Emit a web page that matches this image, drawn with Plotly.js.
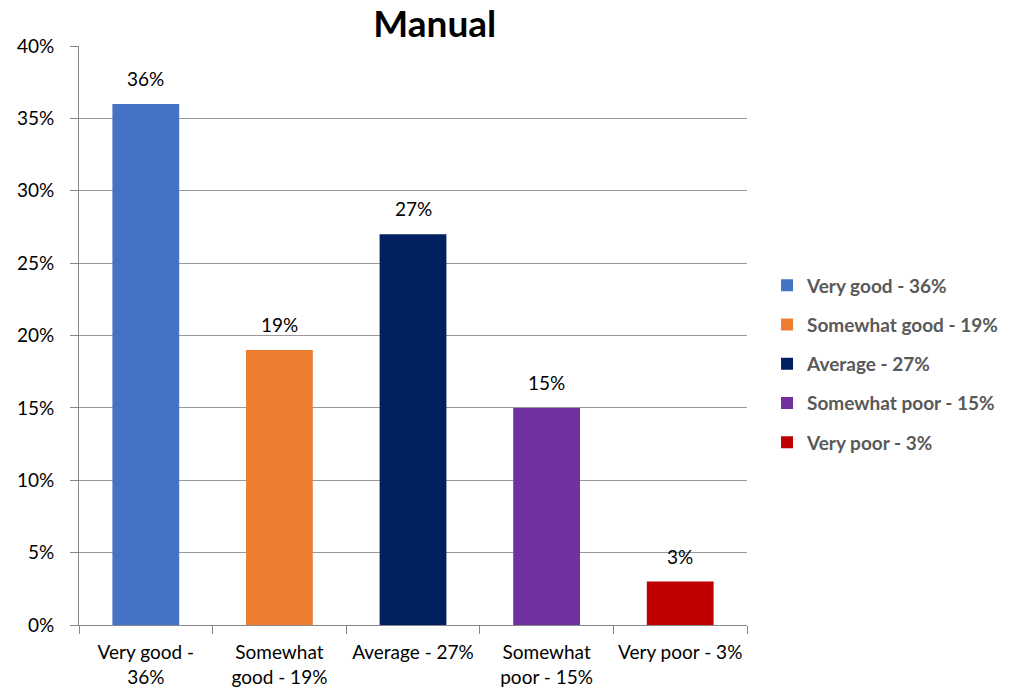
<!DOCTYPE html>
<html>
<head>
<meta charset="utf-8">
<script src="https://cdn.plot.ly/plotly-3.0.1.min.js"></script>
<style>html,body{margin:0;padding:0;background:#fff;}#chart{width:1023px;height:691px;}</style>
</head>
<body>
<div id="chart"></div>
<script>
var categories = ["Very good -<br>36%", "Somewhat<br>good - 19%", "Average - 27%", "Somewhat<br>poor - 15%", "Very poor - 3%"];
var legendNames = ["Very good - 36%", "Somewhat good - 19%", "Average - 27%", "Somewhat poor - 15%", "Very poor - 3%"];
var values = [0.36, 0.19, 0.27, 0.15, 0.03];
var labels = ["36%", "19%", "27%", "15%", "3%"];
var colors = ["#4472C4", "#ED7D31", "#002060", "#7030A0", "#C00000"];

var FONT = "Lato, 'Open Sans', sans-serif";
var traces = categories.map(function (c, i) {
  return {
    type: "bar",
    x: [c],
    y: [values[i]],
    name: legendNames[i],
    legendgroup: "g" + i,
    marker: {color: colors[i]},
    hoverinfo: "skip"
  };
});

var annotations = categories.map(function (c, i) {
  return {
    x: c, y: values[i], xref: "x", yref: "y",
    text: labels[i], showarrow: false,
    yanchor: "bottom", yshift: 12,
    font: {family: FONT, size: 19, color: "#000"}
  };
});

var layout = {
  width: 1023, height: 691,
  margin: {l: 79, r: 276, t: 46, b: 66},
  paper_bgcolor: "#fff", plot_bgcolor: "#fff",
  title: {text: "<b>Manual</b>", font: {family: FONT, size: 37, color: "#000"}, x: 0.425, xanchor: "center", y: 0.965, yanchor: "middle"},
  barmode: "relative",
  bargap: 0.5,
  showlegend: true,
  annotations: annotations,
  legend: {x: 1.030, xanchor: "left", y: 0.4508, yanchor: "middle", font: {family: FONT, size: 19, color: "#595959", weight: "bold"}, tracegroupgap: 11.5, itemwidth: 30, traceorder: "grouped"},
  xaxis: {
    type: "category",
    categoryorder: "array", categoryarray: categories,
    tickson: "boundaries",
    ticks: "outside", ticklen: 8, tickcolor: "#888",
    ticklabelstandoff: 10,
    showline: true, linecolor: "#888", linewidth: 1,
    showgrid: false,
    tickfont: {family: FONT, size: 19, color: "#000"},
    fixedrange: true
  },
  yaxis: {
    range: [0, 0.4], dtick: 0.05, tickformat: ".0%",
    ticks: "outside", ticklen: 8, tickcolor: "#888",
    ticklabelstandoff: 12,
    showline: true, linecolor: "#888", linewidth: 1,
    showgrid: true, gridcolor: "#999", gridwidth: 1,
    zeroline: false,
    tickfont: {family: FONT, size: 19, color: "#000"},
    fixedrange: true
  }
};

Plotly.newPlot("chart", traces, layout, {displayModeBar: false, staticPlot: true});
</script>
</body>
</html>
